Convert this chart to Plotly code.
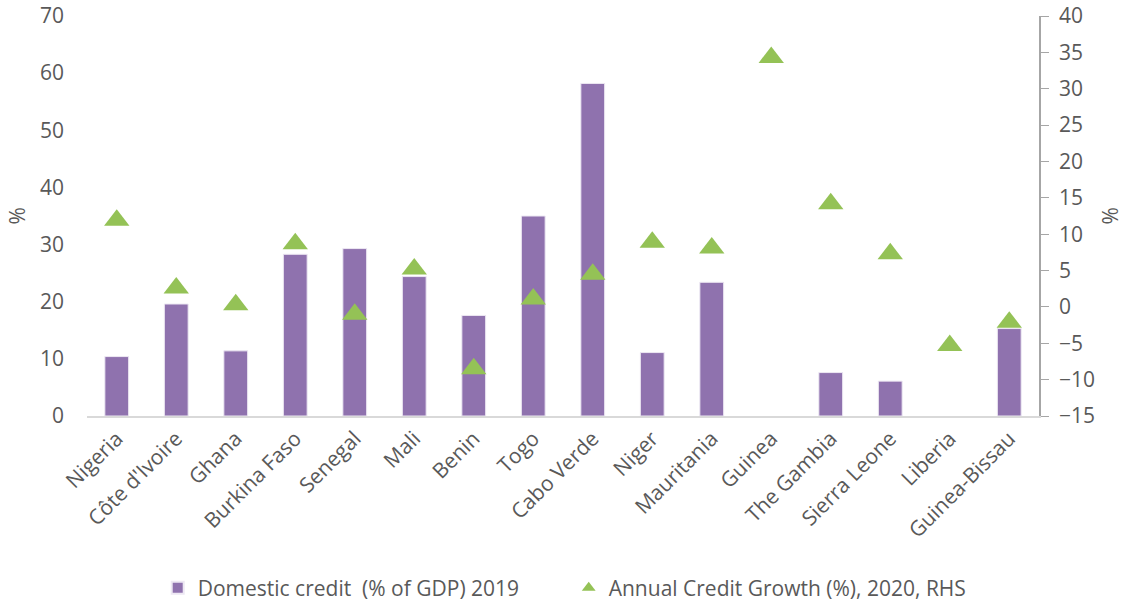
import plotly.graph_objects as go

countries = [
    "Nigeria", "Côte d'Ivoire", "Ghana", "Burkina Faso", "Senegal", "Mali",
    "Benin", "Togo", "Cabo Verde", "Niger", "Mauritania", "Guinea",
    "The Gambia", "Sierra Leone", "Liberia", "Guinea-Bissau",
]
# Domestic credit (% of GDP) 2019, left axis; None = no bar
domestic_credit = [10.4, 19.6, 11.4, 28.3, 29.3, 24.4, 17.6, 35.0,
                   58.2, 11.1, 23.4, None, 7.6, 6.1, None, 15.3]
# Annual credit growth (%) 2020, right axis
credit_growth = [11.9, 2.6, 0.3, 8.7, -1.0, 5.2, -8.5, 1.1,
                 4.5, 8.9, 8.1, 34.3, 14.2, 7.3, -5.3, -2.1]

left_ticks = [0, 10, 20, 30, 40, 50, 60, 70]
right_ticks = [-15, -10, -5, 0, 5, 10, 15, 20, 25, 30, 35, 40]

PURPLE = "#8F72AE"
GREEN = "#94C256"
TEXT = "#595959"
FONT = "Open Sans, DejaVu Sans, sans-serif"

fig = go.Figure()
fig.add_trace(
    go.Bar(
        x=countries,
        y=domestic_credit,
        name="Domestic credit  (% of GDP) 2019",
        marker_color=PURPLE,
        marker_line_color="#EDE8F3",
        marker_line_width=1,
        width=0.4,
        yaxis="y",
    )
)
fig.add_trace(
    go.Scatter(
        x=countries,
        y=credit_growth,
        mode="markers",
        name="Annual Credit Growth (%), 2020, RHS",
        marker=dict(symbol="triangle-up", size=22, color=GREEN),
        yaxis="y2",
    )
)

fig.update_layout(
    width=1123,
    height=604,
    margin=dict(l=87, r=84, t=16, b=188, autoexpand=False),
    paper_bgcolor="white",
    plot_bgcolor="white",
    font=dict(family=FONT, size=21, color=TEXT),
    showlegend=True,
    legend=dict(
        orientation="h",
        x=0.506,
        xanchor="center",
        y=-0.43,
        yanchor="middle",
        font=dict(size=21, color=TEXT),
        entrywidth=366,
        itemsizing="constant",
    ),
    xaxis=dict(
        type="category",
        range=[-0.5, len(countries) - 0.5],
        tickangle=-45,
        showline=True,
        linecolor="#D9D9D9",
        linewidth=2,
        ticks="",
        showgrid=False,
        automargin=False,
    ),
    yaxis=dict(
        range=[0, 70],
        tickvals=left_ticks,
        showgrid=False,
        zeroline=False,
        showline=False,
        ticks="",
        ticklabelstandoff=22,
        ticklabeloverflow="allow",
        automargin=False,
    ),
    yaxis2=dict(
        range=[-15, 40],
        tickvals=right_ticks,
        overlaying="y",
        side="right",
        showgrid=False,
        zeroline=False,
        showline=True,
        linecolor="#A6A6A6",
        linewidth=1.5,
        ticks="outside",
        ticklen=8,
        tickcolor="#A6A6A6",
        ticklabelstandoff=6,
        ticklabeloverflow="allow",
        automargin=False,
    ),
    annotations=[
        dict(text="%", textangle=-90, xref="paper", yref="paper",
             x=-0.074, y=0.5, xanchor="center", yanchor="middle",
             showarrow=False, font=dict(size=21, color=TEXT)),
        dict(text="%", textangle=-90, xref="paper", yref="paper",
             x=1.075, y=0.5, xanchor="center", yanchor="middle",
             showarrow=False, font=dict(size=21, color=TEXT)),
    ],
)

# drop the default 8px body margin so the figure fills the window exactly
fig.write_html(
    "out.html",
    config={"displayModeBar": False},
    post_script="document.body.style.margin='0';",
)
